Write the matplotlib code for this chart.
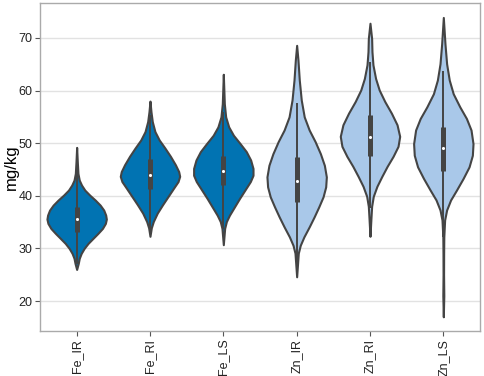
import numpy as np
import matplotlib
matplotlib.use("Agg")
import matplotlib.pyplot as plt

plt.rcParams['font.family'] = ['Liberation Sans', 'DejaVu Sans']

# categories and colours
groups = ["Fe_IR", "Fe_RI", "Fe_LS", "Zn_IR", "Zn_RI", "Zn_LS"]
fill_colors = ["#0173b2", "#0173b2", "#0173b2", "#a9c8e9", "#a9c8e9", "#a9c8e9"]

# violin outlines: y values (mg/kg) and relative half widths
fe_ir_y = [26.0, 27.16, 28.11, 29.06, 30.01, 30.96, 31.91, 32.85, 33.80, 34.75, 35.57,
           36.33, 37.28, 38.23, 39.18, 40.13, 41.08, 42.03, 42.98, 44.25, 46.5, 49.2]
fe_ir_w = [0, 5, 8, 14, 23, 35, 50, 65, 79, 88, 91,
           89, 83, 72, 57, 40, 25, 15, 8, 4, 2, 0]
fe_ri_y = [32.3, 33.9, 35.1, 36.7, 38.3, 39.9, 41.5, 42.7, 43.7, 44.6, 45.9,
           47.5, 49.1, 50.6, 52.2, 54.1, 56.0, 58.0]
fe_ri_w = [0, 4, 10, 22, 38, 55, 72, 85, 90, 87, 77,
           62, 45, 28, 15, 7, 3, 0]
fe_ls_y = [30.7, 33.8, 35.1, 36.3, 37.9, 39.5, 41.1, 42.7, 43.9, 45.2, 46.8,
           48.4, 49.9, 51.5, 53.1, 55.0, 57.5, 63.1]
fe_ls_w = [0, 4, 9, 18, 33, 48, 64, 80, 88, 88, 81,
           68, 50, 30, 16, 7, 3, 0]
zn_ir_y = [24.6, 29.1, 30.6, 32.2, 34.1, 36.0, 37.9, 39.8, 41.7, 43.6, 45.8,
           48.0, 50.3, 52.5, 55.0, 58.2, 62.0, 65.8, 68.6]
zn_ir_w = [0, 5, 11, 22, 38, 53, 67, 80, 88, 90, 84,
           72, 56, 38, 23, 14, 8, 4, 0]
zn_ri_y = [32.3, 35.8, 38.0, 39.9, 41.8, 43.7, 45.6, 47.5, 49.4, 51.3, 53.5,
           55.7, 57.9, 60.1, 62.3, 64.9, 67.4, 69.9, 72.8]
zn_ri_w = [0, 3, 5, 10, 21, 36, 52, 70, 85, 90, 82,
           65, 45, 28, 17, 9, 6, 5, 0]
zn_ls_y = [17.0, 21.0, 25.0, 29.0, 32.2, 35.4, 37.3, 39.2, 41.1, 43.3, 45.5,
           47.7, 49.9, 52.5, 54.7, 56.9, 59.4, 62.0, 65.1, 68.9, 73.9]
zn_ls_w = [0, 1.5, 0.8, 1, 1.5, 4, 10, 22, 40, 60, 78,
           88, 90, 84, 70, 50, 30, 18, 10, 5, 0]

profiles_y = [fe_ir_y, fe_ri_y, fe_ls_y, zn_ir_y, zn_ri_y, zn_ls_y]
profiles_w = [fe_ir_w, fe_ri_w, fe_ls_w, zn_ir_w, zn_ri_w, zn_ls_w]

# inner box stats
q1 = [33.2, 41.3, 42.0, 38.9, 47.5, 44.7]
medians = [35.6, 43.9, 44.8, 42.9, 51.2, 49.0]
q3 = [37.9, 46.9, 47.6, 47.3, 55.3, 53.1]
whisk_lo = [27.0, 33.0, 33.6, 26.0, 37.6, 32.1]
whisk_hi = [44.9, 55.3, 56.0, 57.7, 65.4, 63.7]

fig = plt.figure(figsize=(4.84, 3.76), dpi=100)
ax = fig.add_axes([0.0826, 0.1197, 0.9091, 0.8731])

vpstats = []
for ys, ws, m in zip(profiles_y, profiles_w, medians):
    vpstats.append({"coords": np.array(ys), "vals": np.array(ws, dtype=float),
                    "mean": m, "median": m, "min": ys[0], "max": ys[-1]})

pos = np.arange(len(groups))
parts = ax.violin(vpstats, positions=pos, widths=0.81,
                  showmeans=False, showextrema=False, showmedians=False)
for body, c in zip(parts["bodies"], fill_colors):
    body.set_facecolor(c)
    body.set_edgecolor("#444444")
    body.set_linewidth(1.5)
    body.set_alpha(1)
    body.set_zorder(2)

# box inside each violin
ax.vlines(pos, whisk_lo, whisk_hi, color="#444444", lw=1.4, zorder=3)
ax.vlines(pos, q1, q3, color="#444444", lw=3.6, zorder=3)
ax.scatter(pos, medians, s=5, color="white", zorder=4, linewidths=0)

ax.set_xlim(-0.5, 5.5)
ax.set_ylim(14.3, 76.7)
ax.set_yticks([20, 30, 40, 50, 60, 70])
ax.set_xticks(pos)
ax.set_xticklabels(groups, rotation=90)
ax.set_ylabel("mg/kg", fontsize=12, labelpad=-0.5)
ax.yaxis.grid(True, color="#e2e2e2", lw=1)
ax.set_axisbelow(True)
ax.tick_params(direction="out", length=3.5, width=0.8, color="#555555",
               labelsize=9, labelcolor="#222222", pad=2)
for sp in ax.spines.values():
    sp.set_color("#aaaaaa")
    sp.set_linewidth(1)

fig.savefig("out.png", dpi=100)
